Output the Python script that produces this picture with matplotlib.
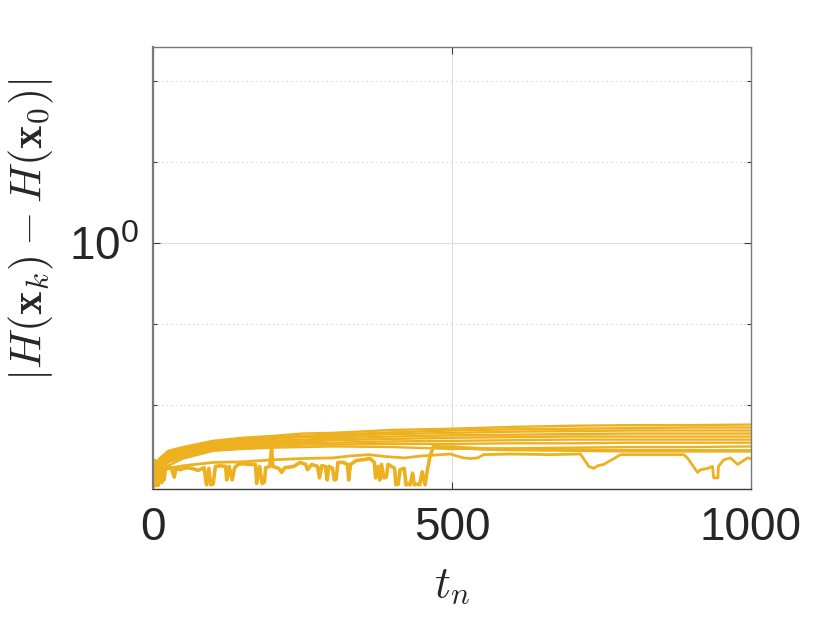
import matplotlib
matplotlib.use("Agg")
import matplotlib.pyplot as plt
import matplotlib.ticker as mticker

plt.rcParams["font.family"] = ["Liberation Sans", "DejaVu Sans"]
plt.rcParams["mathtext.fontset"] = "custom"
plt.rcParams["mathtext.rm"] = "Liberation Sans"
plt.rcParams["mathtext.it"] = "Liberation Sans:italic"

COLOR = "#EDB120"

# time grid shared by the smooth runs
t_grid = [0, 10, 25, 50, 75, 100, 150, 200, 250, 300, 400, 500, 600, 700, 800, 900, 1000]

run_1 = [0.527, 0.542, 0.554, 0.560, 0.565, 0.570, 0.575, 0.578, 0.582, 0.583,
         0.588, 0.590, 0.593, 0.595, 0.596, 0.596, 0.597]
run_2 = [0.524, 0.539, 0.551, 0.558, 0.563, 0.567, 0.572, 0.576, 0.578, 0.580,
         0.584, 0.587, 0.589, 0.590, 0.591, 0.592, 0.592]
run_3 = [0.521, 0.536, 0.548, 0.556, 0.560, 0.565, 0.570, 0.573, 0.576, 0.577,
         0.581, 0.583, 0.585, 0.586, 0.587, 0.587, 0.587]
run_4 = [0.518, 0.533, 0.545, 0.554, 0.558, 0.563, 0.567, 0.570, 0.572, 0.574,
         0.577, 0.579, 0.580, 0.581, 0.582, 0.582, 0.582]
run_5 = [0.515, 0.530, 0.542, 0.551, 0.556, 0.560, 0.564, 0.567, 0.569, 0.571,
         0.573, 0.575, 0.576, 0.577, 0.577, 0.577, 0.577]
run_6 = [0.513, 0.527, 0.539, 0.548, 0.554, 0.558, 0.562, 0.565, 0.567, 0.567,
         0.569, 0.570, 0.571, 0.572, 0.572, 0.572, 0.572]
run_7 = [0.510, 0.524, 0.536, 0.545, 0.551, 0.556, 0.560, 0.562, 0.564, 0.564,
         0.565, 0.565, 0.566, 0.566, 0.567, 0.567, 0.567]
run_8 = [0.507, 0.520, 0.531, 0.542, 0.548, 0.554, 0.557, 0.559, 0.560, 0.561,
         0.560, 0.557, 0.558, 0.559, 0.560, 0.560, 0.561]

# lower run with dips in the second half
t_9 = [0, 10, 25, 50, 100, 150, 200, 250, 300, 330, 360, 390, 420, 450, 497, 519,
       531, 543, 553, 600, 665, 715, 729, 737, 744, 754, 771, 782, 850, 888, 894,
       911, 916, 928, 936, 938, 945, 946, 955, 966, 978, 995, 1000]
run_9 = [0.504, 0.518, 0.527, 0.531, 0.536, 0.537, 0.540, 0.542, 0.543, 0.546,
         0.548, 0.545, 0.543, 0.546, 0.549, 0.543, 0.542, 0.543, 0.548, 0.549,
         0.548, 0.549, 0.530, 0.527, 0.531, 0.533, 0.542, 0.548, 0.548, 0.548,
         0.543, 0.521, 0.525, 0.527, 0.530, 0.513, 0.513, 0.530, 0.540, 0.543,
         0.533, 0.543, 0.542]

# jagged run in the first half
t_10 = [0, 1, 2, 3, 4, 5, 6, 7, 8, 9, 10, 12, 14, 16, 18, 21,
        25, 30, 35, 38, 45, 55, 65, 75, 85, 89, 93, 96,
        100, 104, 112, 121, 123, 127, 132, 136, 142, 150, 160, 171, 173, 178, 182,
        186, 188, 195, 198, 200, 210, 215, 220, 235, 246, 255, 258, 265, 275, 278,
        282, 288, 291, 294, 300, 303, 306, 309, 318, 325, 327, 330, 340, 350, 363,
        370, 372, 376, 379, 382, 386, 390, 393, 397, 404, 406, 410, 413, 420, 423,
        427, 430, 434, 437, 442, 446, 450, 455, 458, 463, 469, 480, 500, 550, 600,
        700, 800, 900, 1000]
run_10 = [0.501, 0.530, 0.503, 0.539, 0.502, 0.535, 0.505, 0.533, 0.502, 0.536,
          0.507, 0.533, 0.506, 0.530, 0.510, 0.530,
          0.527, 0.528,
          0.514, 0.527, 0.525, 0.528, 0.527, 0.524, 0.528, 0.503, 0.527, 0.503,
          0.504, 0.530, 0.531, 0.530, 0.510, 0.530, 0.510, 0.528, 0.533, 0.534,
          0.533, 0.533, 0.505, 0.530, 0.505, 0.507, 0.528, 0.530, 0.559, 0.530,
          0.527, 0.521, 0.528, 0.530, 0.536, 0.533, 0.525, 0.533, 0.530, 0.513,
          0.531, 0.530, 0.510, 0.530, 0.527, 0.510, 0.511, 0.536, 0.536, 0.533,
          0.510, 0.533, 0.539, 0.540, 0.542, 0.536, 0.513, 0.530, 0.510, 0.533,
          0.513, 0.514, 0.533, 0.531, 0.527, 0.503, 0.504, 0.525, 0.527, 0.503,
          0.504, 0.503, 0.520, 0.503, 0.504, 0.503, 0.522, 0.503, 0.521, 0.545,
          0.562, 0.560, 0.560, 0.557, 0.556, 0.555, 0.554, 0.554, 0.554]

fig = plt.figure(figsize=(8.3, 6.23), dpi=100)
ax = fig.add_axes([0.1847, 0.2151, 0.7198, 0.7095])

for run in [run_1, run_2, run_3, run_4, run_5, run_6, run_7, run_8]:
    ax.plot(t_grid, run, color=COLOR, linewidth=1.7)
ax.plot(t_9, run_9, color=COLOR, linewidth=2.0)
ax.plot(t_10, run_10, color=COLOR, linewidth=2.6)

ax.set_yscale("log")
ax.set_xlim(0, 1000)
ax.set_ylim(0.497, 1.748)
ax.set_xticks([0, 500, 1000])
ax.yaxis.set_major_locator(mticker.FixedLocator([1.0]))
ax.yaxis.set_major_formatter(mticker.LogFormatterMathtext())
ax.yaxis.set_minor_locator(mticker.FixedLocator([10 ** -0.2, 10 ** -0.1, 10 ** 0.1, 10 ** 0.2]))
ax.yaxis.set_minor_formatter(mticker.NullFormatter())

ax.grid(which="major", color="#dedede", linewidth=0.8, linestyle="-")
ax.grid(which="minor", axis="y", color="#c8c8c8", linewidth=0.8, linestyle=(0, (1, 3)))
ax.set_axisbelow(True)

for side in ["left", "right", "top", "bottom"]:
    ax.spines[side].set_color("#7a7a7a")
    ax.spines[side].set_linewidth(1.0)
ax.spines["left"].set_linewidth(1.6)
ax.spines["bottom"].set_color("#3a3a3a")

ax.tick_params(which="both", direction="in", top=True, right=True, colors="#3a3a3a")
ax.tick_params(which="major", length=5, width=0.8, labelsize=33, labelcolor="#262626")
ax.tick_params(axis="x", pad=12)
ax.tick_params(axis="y", pad=10)
ax.tick_params(which="minor", length=3, width=0.8)

fig.text(31 / 830, 1 - 230 / 623, r"$|H(\mathbf{x}_k) - H(\mathbf{x}_0)|$",
         rotation=90, ha="center", va="center", fontsize=32,
         math_fontfamily="cm", color="#262626")
fig.text(452 / 830, 1 - 586 / 623, r"$t_n$", ha="center", va="center",
         fontsize=32, math_fontfamily="cm", color="#262626")

fig.savefig("out.png", dpi=100)
